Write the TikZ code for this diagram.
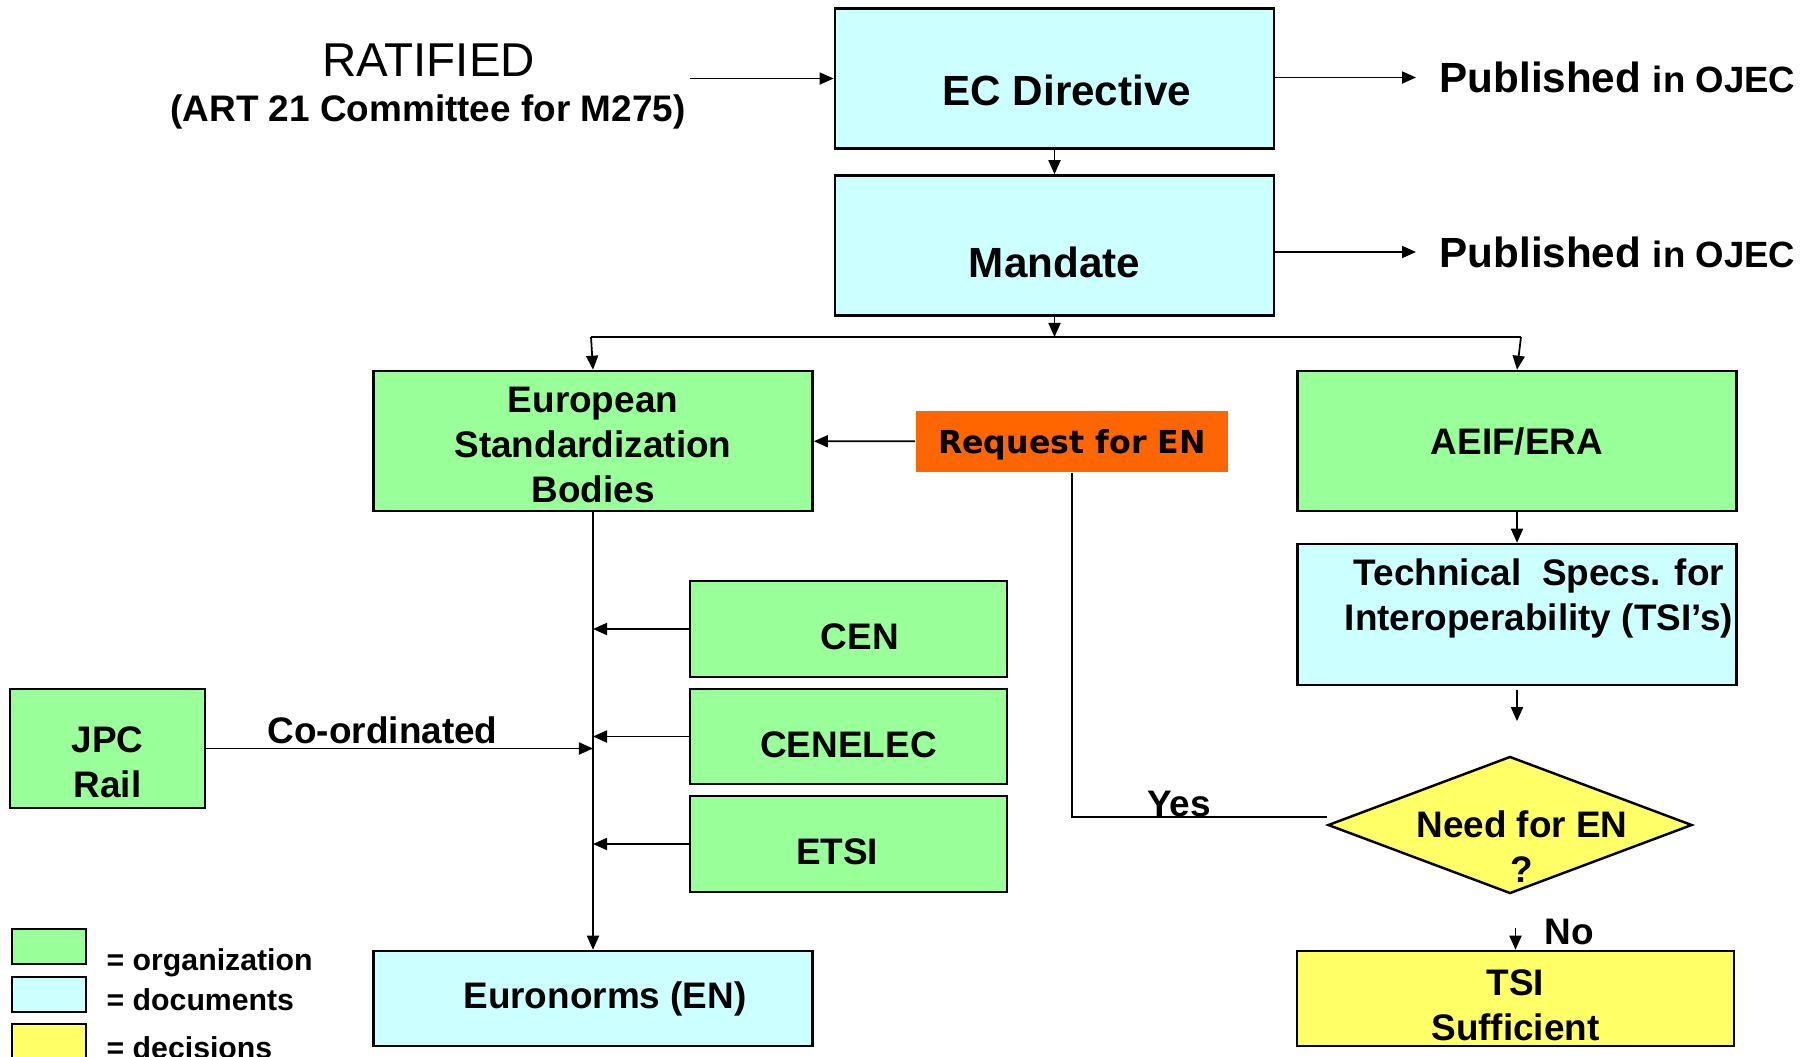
\documentclass[tikz,border=0pt]{standalone}
\usepackage{fontspec}
\setmainfont{Liberation Sans}
\newfontfamily\reqfont{DejaVu Sans}
\usetikzlibrary{arrows.meta,positioning,shapes.geometric}
\definecolor{orgcol}{HTML}{99FF99}
\definecolor{doccol}{HTML}{CCFFFF}
\definecolor{deccol}{HTML}{FFFF66}
\definecolor{reqcol}{HTML}{FF6600}

\begin{document}
\begin{tikzpicture}[x=0.01cm,y=-0.01cm,
  font=\bfseries\fontsize{10.5}{12.8}\selectfont,
  bx/.style={draw=black,line width=0.7pt,inner sep=0pt,align=center,minimum width=4.39cm,minimum height=1.4cm},
  org/.style={bx,fill=orgcol},
  doc/.style={bx,fill=doccol},
  dec/.style={bx,fill=deccol},
  big/.style={font=\bfseries\fontsize{12}{14}\selectfont},
  sm/.style={minimum width=3.17cm,minimum height=0.96cm,text height=11.8pt,text depth=0pt},
  lgt/.style={anchor=base west,inner sep=0pt,font=\bfseries\fontsize{8.6}{10}\selectfont},
  a/.style={line width=0.5pt,-{Triangle[length=1.4mm,width=1.2mm]}},
  ln/.style={line width=0.5pt},
  lbl/.style={inner sep=0pt}]
\useasboundingbox (0,0) rectangle (1814,1057);
\clip (0,0) rectangle (1814,1057);
% directive and mandate
\node[doc,big,text height=15.4pt,text depth=0pt] (ec) at (1054.5,78.5) {\hspace*{7pt}EC Directive};
\node[doc,big,text height=18.2pt,text depth=0pt] (md) at (1054.5,245.5) {Mandate};
\node[font=\mdseries\fontsize{13.5}{16}\selectfont] (rat) at (428.6,60) {RATIFIED};
\node[inner sep=1pt] (art) at (428,112) {(ART 21 Committee for M275)};
\node[anchor=west,inner xsep=6.5pt,inner ysep=0pt] (pub1) at (1416,77.5) {\fontsize{12}{14}\selectfont Published {\fontsize{10.4}{12}\selectfont in OJEC}};
\node[anchor=west,inner xsep=6.5pt,inner ysep=0pt] (pub2) at (1416,252) {\fontsize{12}{14}\selectfont Published {\fontsize{10.4}{12}\selectfont in OJEC}};
% standardization side
\node[org,text height=35.1pt,text depth=0pt] (esb) at (593,441) {European\\Standardization\\Bodies};
\node[fill=reqcol,minimum width=3.12cm,minimum height=0.61cm,inner sep=0pt,text depth=0pt,font=\reqfont\bfseries\fontsize{9}{11}\selectfont] (req) at (1072,441.5) {Request for EN};
\node[org,sm] (cen) at (848.5,629) {\hspace*{6.5pt}CEN};
\node[org,sm,minimum height=0.95cm] (cnl) at (848.5,736.5) {CENELEC};
\node[org,sm] (etsi) at (848.5,844) {ETSI\hspace*{6.5pt}};
\node[org,minimum width=1.95cm,minimum height=1.19cm,text height=27.7pt,text depth=0pt] (jpc) at (107.5,748.5) {JPC\\Rail};
\node[doc,minimum height=0.95cm] (en) at (593,998.5) {\hspace*{6.8pt}Euronorms (EN)};
% interoperability side
\node[org] (aeif) at (1517,441) {AEIF/ERA};
\node[doc,minimum height=1.41cm,text height=9.2pt,text depth=0pt] (tsi) at (1517,614.5) {\hspace*{12.5pt}Technical\ \ Specs. for\\\hspace*{12.5pt}Interoperability (TSI’s)};
\node[diamond,draw=black,line width=0.7pt,fill=deccol,aspect=2.66,inner sep=0pt,minimum width=3.64cm,minimum height=1.37cm] (need) at (1510,825) {};
\node[align=center,inner sep=0pt] (needtx) at (1522,846.5) {Need for EN\\?};
\node[dec,minimum width=4.37cm,minimum height=0.95cm,text height=23.7pt,text depth=0pt] (suf) at (1515.5,998.5) {TSI\\Sufficient};
% legend
\node[org,minimum width=0.74cm,minimum height=0.35cm] (lg1) at (49,946.5) {};
\node[doc,minimum width=0.74cm,minimum height=0.35cm] (lg2) at (49,994.5) {};
\node[dec,minimum width=0.74cm,minimum height=0.46cm] (lg3) at (49,1047) {};
\node[lgt] (lt1) at (106,970) {= organization};
\node[lgt] (lt2) at (106,1010) {= documents};
\node[lgt] (lt3) at (106,1058) {= decisions};
% connectors
\coordinate (bl) at (591,337);
\coordinate (br) at (1521,337);
\draw[a] (art.east |- ec.west) -- (ec.west);
\draw[a] (ec.east |- pub1.west) -- (pub1.west);
\draw[a] (md.east |- pub2.west) -- (pub2.west);
\draw[a] (ec) -- (md);
\draw[a] (md.south) -- (md.south |- bl);
\draw[ln] (bl) -- (br);
\draw[a] (bl) -- (esb.north);\draw[a] (br) -- (aeif.north);
\draw[a] (req) -- (esb);\draw[a] (esb) -- (en);
\draw[a] (cen) -- (cen -| esb);\draw[a] (cnl) -- (cnl -| esb);\draw[a] (etsi) -- (etsi -| esb);
\draw[a] (jpc) -- (jpc -| esb) node[lbl,above=1pt,pos=0.456] (coord) {Co-ordinated};
\draw[a] (aeif) -- (tsi);
\draw[a] ([yshift=-1pt]tsi.south) -- ([yshift=9.7pt]need.north -| tsi.south);
\draw[ln] (req.south) |- ([yshift=2.3pt]need.west) node[lbl,anchor=base,pos=0.71] (yes) {Yes};
\draw[a] ([yshift=-9.4pt]need.south -| suf.north) -- (suf.north) node[lbl,anchor=west,pos=0.2,xshift=8pt] (no) {No};
\end{tikzpicture}
\end{document}
